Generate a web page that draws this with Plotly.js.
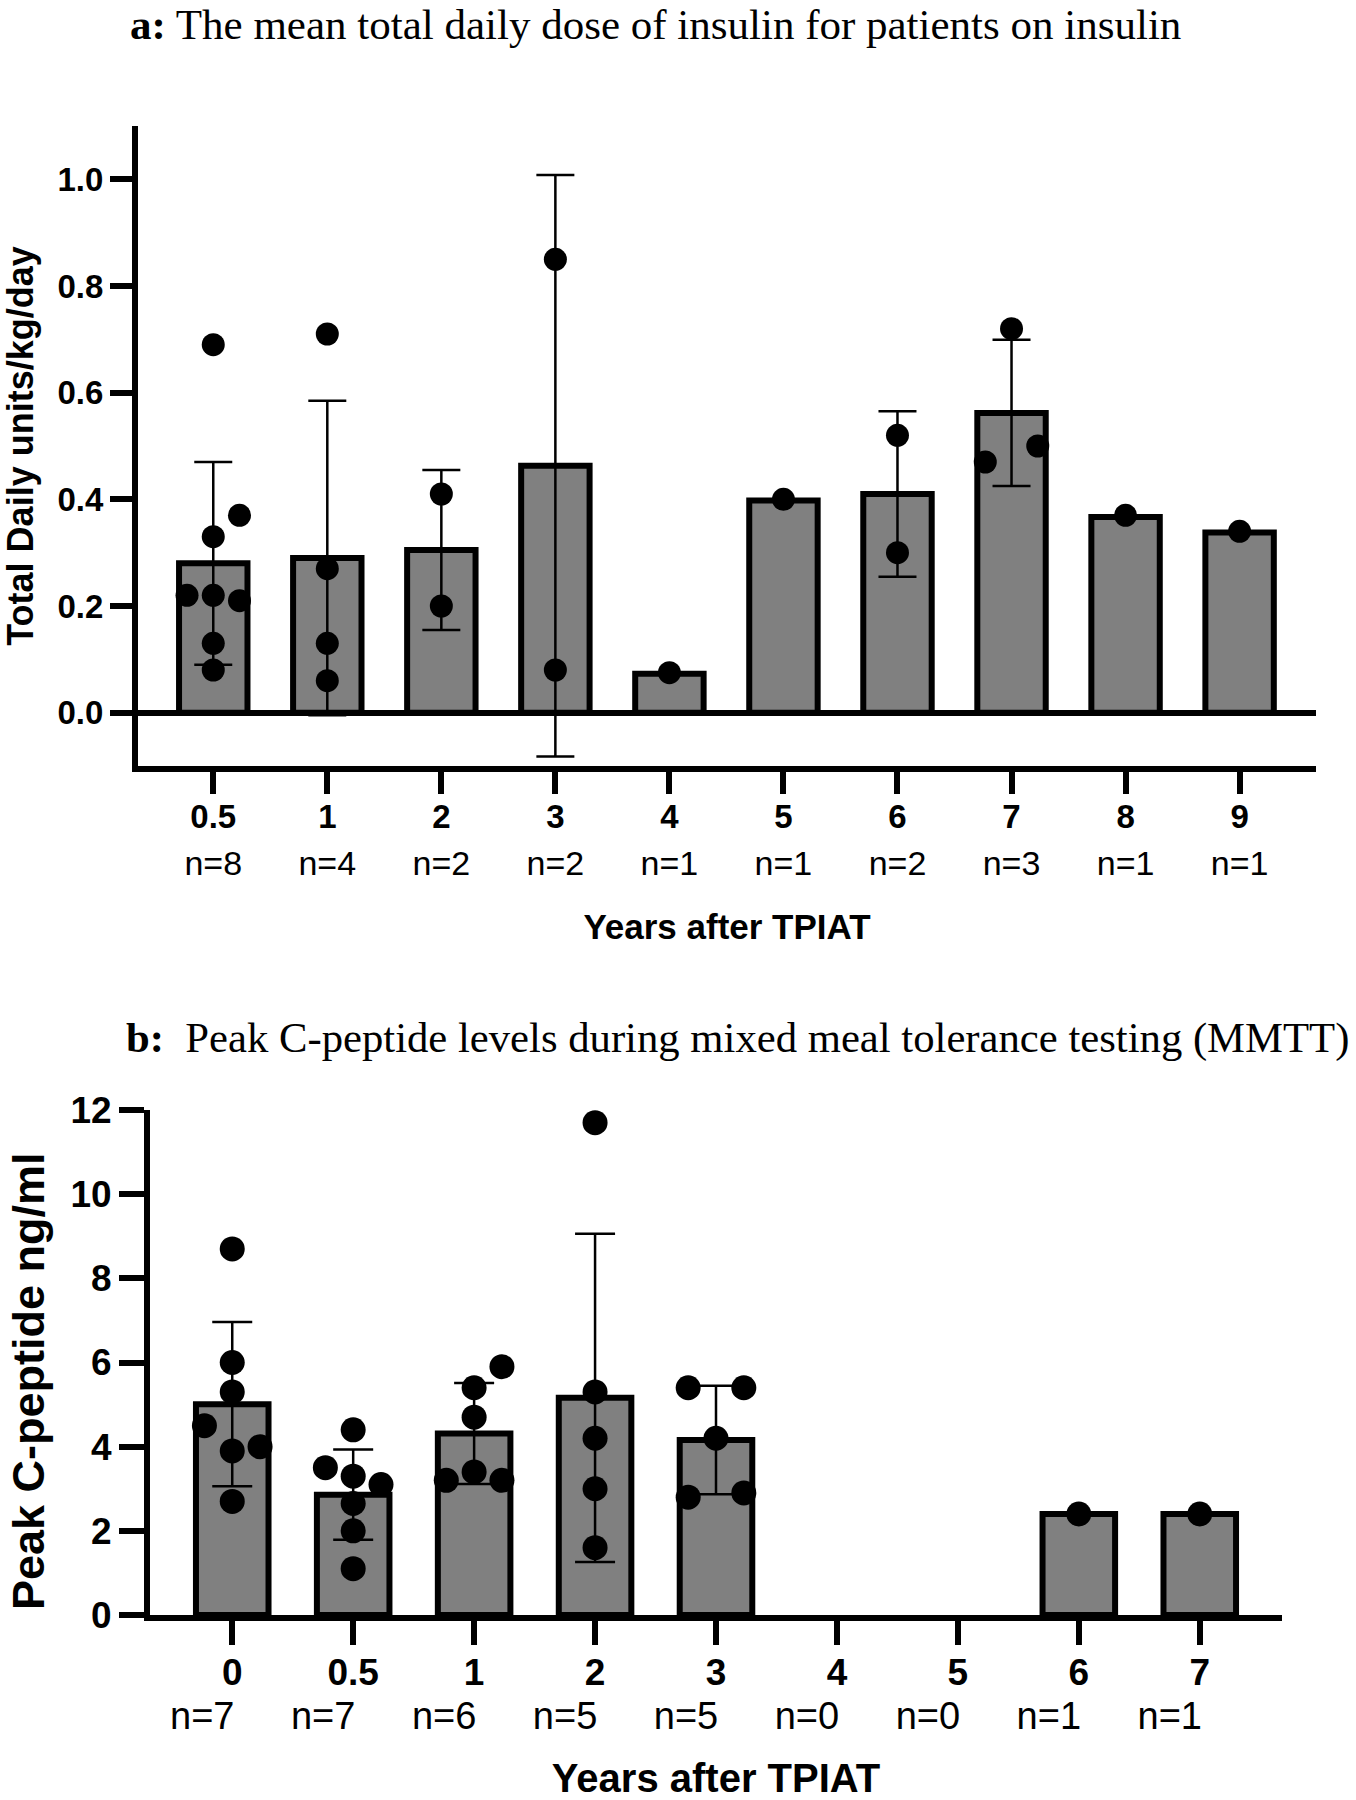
<!DOCTYPE html>
<html>
<head>
<meta charset="utf-8">
<script src="https://cdn.plot.ly/plotly-3.0.1.min.js"></script>
<style>html,body{margin:0;padding:0;background:#fff}</style>
</head>
<body>
<div id="chart" style="width:1356px;height:1800px"></div>
<script>
// ---------- Panel a: total daily insulin dose ----------
const aYears = ['0.5', '1', '2', '3', '4', '5', '6', '7', '8', '9'];
const aN = [8, 4, 2, 2, 1, 1, 2, 3, 1, 1];
const aMean = [0.28, 0.29, 0.305, 0.463, 0.073, 0.398, 0.41, 0.562, 0.367, 0.338];
const aSD = [0.19, 0.295, 0.15, 0.545, null, null, 0.155, 0.137, null, null];
// individual patients: category index, value, jitter column (-1 left, 0 centre, 1 right)
const aPtCat = [0, 0, 0, 0, 0, 0, 0, 0, 1, 1, 1, 1, 2, 2, 3, 3, 4, 5, 6, 6, 7, 7, 7, 8, 9];
const aPtVal = [0.69, 0.37, 0.33, 0.22, 0.22, 0.21, 0.13, 0.08, 0.71, 0.27, 0.13, 0.06, 0.41, 0.20, 0.85, 0.08, 0.075, 0.40, 0.52, 0.30, 0.72, 0.47, 0.50, 0.37, 0.34];
const aPtCol = [0, 1, 0, -1, 0, 1, 0, 0, 0, 0, 0, 0, 0, 0, 0, 0, 0, 0, 0, 0, 0, -1, 1, 0, 0];

// ---------- Panel b: peak C-peptide during MMTT ----------
const bYears = ['0', '0.5', '1', '2', '3', '4', '5', '6', '7'];
const bN = [7, 7, 6, 5, 5, 0, 0, 1, 1];
const bMean = [5.01, 2.86, 4.31, 5.16, 4.16, null, null, 2.4, 2.4];
const bSD = [1.95, 1.07, 1.2, 3.9, 1.29, null, null, null, null];
const bPtCat = [0, 0, 0, 0, 0, 0, 0, 1, 1, 1, 1, 1, 1, 1, 2, 2, 2, 2, 2, 2, 3, 3, 3, 3, 3, 4, 4, 4, 4, 4, 7, 8];
const bPtVal = [8.7, 6.0, 5.3, 4.5, 4.0, 3.9, 2.7, 4.4, 3.5, 3.3, 3.1, 2.65, 2.0, 1.1, 5.9, 5.4, 4.7, 3.4, 3.2, 3.2, 11.7, 5.3, 4.2, 3.0, 1.6, 5.4, 5.4, 4.2, 2.8, 2.9, 2.4, 2.4];
const bPtCol = [0, 0, 0, -1, 1, 0, 0, 0, -1, 0, 1, 0, 0, 0, 1, 0, 0, 0, -1, 1, 0, 0, 0, 0, 0, -1, 1, 0, -1, 1, 0, 0];

const aTicks = [0, 0.2, 0.4, 0.6, 0.8, 1.0];
const aTickText = ['0.0', '0.2', '0.4', '0.6', '0.8', '1.0'];
const bTicks = [0, 2, 4, 6, 8, 10, 12];

// ---------- styling ----------
const SANS = 'Liberation Sans, Arial, Helvetica, sans-serif';
const SERIF = 'Liberation Serif, Times New Roman, serif';
const BLACK = '#000000';
const BAR_FILL = '#808080';
const JIT = 0.23;
const idx = arr => arr.map((_, i) => i);
const bold = arr => arr.map(s => '<b>' + s + '</b>');

const traces = [
  {
    type: 'bar', x: idx(aYears), y: aMean, xaxis: 'x', yaxis: 'y', width: 0.6,
    marker: {color: BAR_FILL, line: {color: BLACK, width: 6}},
    error_y: {type: 'data', array: aSD, visible: true, color: BLACK, thickness: 2.5, width: 19},
    hoverinfo: 'skip'
  },
  {
    type: 'scatter', mode: 'markers', xaxis: 'x', yaxis: 'y',
    x: aPtCat.map((c, i) => c + aPtCol[i] * JIT), y: aPtVal,
    marker: {size: 23, color: BLACK}, cliponaxis: false, hoverinfo: 'skip'
  },
  // carrier trace (invisible) for the "n=" label axis of panel a
  {
    type: 'scatter', mode: 'markers', xaxis: 'x3', yaxis: 'y',
    x: idx(aYears), y: aMean, marker: {size: 1, opacity: 0}, hoverinfo: 'skip'
  },
  {
    type: 'bar', x: idx(bYears), y: bMean, xaxis: 'x2', yaxis: 'y2', width: 0.6,
    marker: {color: BAR_FILL, line: {color: BLACK, width: 6}},
    error_y: {type: 'data', array: bSD, visible: true, color: BLACK, thickness: 2.5, width: 20},
    hoverinfo: 'skip'
  },
  {
    type: 'scatter', mode: 'markers', xaxis: 'x2', yaxis: 'y2',
    x: bPtCat.map((c, i) => c + bPtCol[i] * JIT), y: bPtVal,
    marker: {size: 25, color: BLACK}, cliponaxis: false, hoverinfo: 'skip'
  },
  // carrier trace (invisible) for the "n=" label axis of panel b
  {
    type: 'scatter', mode: 'markers', xaxis: 'x4', yaxis: 'y2',
    x: idx(bYears), y: bMean, marker: {size: 1, opacity: 0}, hoverinfo: 'skip'
  }
];

const axCommon = {
  showgrid: false, zeroline: false, showline: true, linecolor: BLACK, linewidth: 6,
  ticks: 'outside', tickcolor: BLACK, tickwidth: 6, tickmode: 'array',
  fixedrange: true, automargin: false
};

const nAxis = {
  showgrid: false, zeroline: false, showline: false, ticks: '', ticklen: 0, tickmode: 'array',
  fixedrange: true, automargin: false
};

const layout = {
  width: 1356, height: 1800,
  margin: {l: 0, r: 0, t: 0, b: 0},
  paper_bgcolor: '#ffffff', plot_bgcolor: '#ffffff',
  showlegend: false, bargap: 0,
  title: {
    text: '<b>a:</b> The mean total daily dose of insulin for patients on insulin',
    font: {family: SERIF, size: 43, color: BLACK},
    x: 130 / 1356, xanchor: 'left', xref: 'paper',
    y: 1 - 24 / 1800, yanchor: 'middle', yref: 'paper'
  },
  annotations: [{
    text: '<b>b:</b>\u00A0\u00A0Peak C-peptide levels during mixed meal tolerance testing (MMTT)',
    font: {family: SERIF, size: 42.7, color: BLACK},
    x: 124 / 1356, xanchor: 'left', xref: 'paper',
    y: 1 - 1038 / 1800, yanchor: 'middle', yref: 'paper',
    showarrow: false
  }],
  xaxis: Object.assign({}, axCommon, {
    domain: [138 / 1356, 1316 / 1356], range: [-0.66, 9.67], anchor: 'y',
    tickvals: idx(aYears), ticktext: bold(aYears), ticklen: 22, ticklabelstandoff: -6,
    tickfont: {family: SANS, size: 33, color: BLACK}
  }),
  xaxis3: Object.assign({}, nAxis, {
    overlaying: 'x', anchor: 'y', range: [-0.66, 9.67], domain: [138 / 1356, 1316 / 1356],
    tickvals: idx(aYears), ticktext: aN.map(n => 'n=' + n), ticklabelstandoff: 74,
    tickfont: {family: SANS, size: 34, color: BLACK},
    title: {text: '<b>Years after TPIAT</b>', font: {family: SANS, size: 35, color: BLACK}, standoff: 33}
  }),
  yaxis: Object.assign({}, axCommon, {
    domain: [1 - 766 / 1800, 1 - 126 / 1800], range: [-0.1, 1.1], anchor: 'x',
    tickvals: aTicks, ticktext: bold(aTickText), ticklen: 22,
    zeroline: true, zerolinecolor: BLACK, zerolinewidth: 6,
    tickfont: {family: SANS, size: 33, color: BLACK},
    title: {text: '<b>Total Daily units/kg/day</b>', font: {family: SANS, size: 36, color: BLACK}, standoff: 20}
  }),
  xaxis2: Object.assign({}, axCommon, {
    domain: [150 / 1356, 1282 / 1356], range: [-0.68, 8.68], anchor: 'y2',
    tickvals: idx(bYears), ticktext: bold(bYears), ticklen: 24, ticklabelstandoff: -4,
    tickfont: {family: SANS, size: 37, color: BLACK}
  }),
  xaxis4: Object.assign({}, nAxis, {
    overlaying: 'x2', anchor: 'y2', range: [-0.68, 8.68], domain: [150 / 1356, 1282 / 1356],
    tickvals: idx(bYears), ticktext: bN.map(n => 'n=' + n), ticklabelstandoff: 75, ticklabelshift: -30,
    tickfont: {family: SANS, size: 38, color: BLACK},
    title: {text: '<b>Years after TPIAT</b>', font: {family: SANS, size: 40, color: BLACK}, standoff: 34}
  }),
  yaxis2: Object.assign({}, axCommon, {
    domain: [1 - 1615 / 1800, 1 - 1110 / 1800], range: [0, 12], anchor: 'x2',
    tickvals: bTicks, ticktext: bold(bTicks.map(String)), ticklen: 25,
    tickfont: {family: SANS, size: 37, color: BLACK},
    title: {text: '<b>Peak C-peptide ng/ml\u00A0\u00A0\u00A0</b>', font: {family: SANS, size: 45, color: BLACK}, standoff: 14}
  })
};

Plotly.newPlot('chart', traces, layout, {staticPlot: true, displayModeBar: false});
</script>
</body>
</html>
